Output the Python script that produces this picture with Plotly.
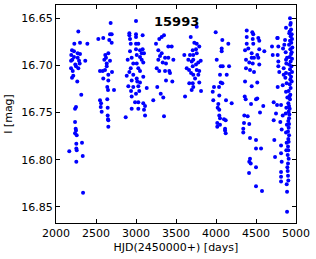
import plotly.graph_objects as go

s1_hjd = [2279, 2229, 2300, 2392, 2200, 2225, 2191, 2271, 2300, 2225, 2204, 2271, 2288, 2188,
          2241, 2296, 2366, 2188, 2250, 2209, 2279, 2200, 2216, 2266, 2316, 2250, 2238, 2238,
          2246, 2250, 2238, 2259, 2254, 2325, 2254, 2259, 2166, 2334, 2254, 2338]
s1_mag = [16.664, 16.677, 16.676, 16.677, 16.684, 16.685, 16.689, 16.687, 16.688, 16.691, 16.694,
          16.692, 16.695, 16.695, 16.699, 16.698, 16.695, 16.703, 16.701, 16.706, 16.703, 16.713,
          16.711, 16.717, 16.731, 16.744, 16.746, 16.760, 16.767, 16.769, 16.772, 16.774, 16.783,
          16.782, 16.788, 16.790, 16.791, 16.796, 16.802, 16.835]

s2_hjd = [2683, 2529, 2591, 2675, 2696, 2666, 2696, 2616, 2654, 2625, 2675, 2604, 2634, 2550,
          2584, 2634, 2613, 2700, 2654, 2591, 2654, 2641, 2650, 2725, 2550, 2563, 2641, 2559,
          2571, 2646, 2646, 2650, 2654, 2871, 2654]
s2_mag = [16.655, 16.672, 16.671, 16.667, 16.667, 16.673, 16.676, 16.689, 16.687, 16.692, 16.695,
          16.694, 16.698, 16.706, 16.706, 16.701, 16.705, 16.707, 16.710, 16.714, 16.716, 16.723,
          16.726, 16.726, 16.737, 16.740, 16.736, 16.744, 16.749, 16.745, 16.753, 16.757, 16.765,
          16.755, 16.758]

s3_hjd = [3000, 2917, 2917, 3000, 3000, 3083, 2925, 2934, 3000, 3029, 3050, 3083, 3000, 2925,
          3071, 3100, 3009, 2946, 3050, 2896, 3071, 2966, 3009, 3091, 2934, 3029, 2917, 3050,
          2884, 2966, 3009, 2946, 3091, 3016, 3050, 2904, 2966, 3029, 3134, 2938, 3000, 3041,
          2946, 2988, 3029, 3091, 3113, 2946, 3029, 3100, 3113, 3216]
s3_mag = [16.653, 16.666, 16.668, 16.667, 16.670, 16.668, 16.672, 16.677, 16.677, 16.677, 16.684,
          16.683, 16.683, 16.685, 16.687, 16.687, 16.689, 16.692, 16.691, 16.694, 16.694, 16.698,
          16.698, 16.697, 16.703, 16.703, 16.707, 16.706, 16.711, 16.710, 16.714, 16.716, 16.712,
          16.717, 16.718, 16.722, 16.723, 16.722, 16.724, 16.727, 16.730, 16.727, 16.733, 16.739,
          16.739, 16.740, 16.743, 16.746, 16.746, 16.747, 16.753, 16.737]

s4_hjd = [3350, 3321, 3291, 3250, 3404, 3446, 3279, 3321, 3300, 3279, 3363, 3404, 3467, 3334,
          3375, 3259, 3291, 3363, 3416, 3425, 3375, 3454, 3266, 3309, 3341, 3350]
s4_mag = [16.668, 16.670, 16.672, 16.677, 16.680, 16.680, 16.684, 16.687, 16.690, 16.694, 16.692,
          16.692, 16.694, 16.697, 16.698, 16.703, 16.706, 16.706, 16.706, 16.708, 16.716, 16.717,
          16.723, 16.730, 16.734, 16.754]

s5_hjd = [3759, 3684, 3729, 3759, 3791, 3709, 3750, 3759, 3675, 3716, 3604, 3716, 3654, 3809,
          3779, 3696, 3750, 3709, 3634, 3663, 3759, 3791, 3688, 3716, 3779, 3738, 3666, 3709,
          3791, 3716, 3696, 3813, 3613]
s5_mag = [16.659, 16.670, 16.676, 16.677, 16.680, 16.684, 16.683, 16.687, 16.689, 16.689, 16.689,
          16.694, 16.694, 16.695, 16.697, 16.696, 16.699, 16.701, 16.703, 16.705, 16.705, 16.706,
          16.708, 16.710, 16.710, 16.714, 16.719, 16.719, 16.718, 16.723, 16.726, 16.727, 16.733]

s6_hjd = [3996, 4079, 4154, 4071, 4071, 4009, 4059, 4084, 4163, 4050, 4134, 4059, 4079, 4038,
          3975, 3959, 4041, 3966, 4125, 4196, 4029, 4021, 4041, 4041, 4050, 4100, 4121, 4016,
          4050, 4016, 4113, 4113, 4121]
s6_mag = [16.665, 16.673, 16.677, 16.682, 16.685, 16.694, 16.701, 16.701, 16.701, 16.710, 16.710,
          16.718, 16.719, 16.723, 16.723, 16.728, 16.732, 16.737, 16.737, 16.740, 16.741, 16.745,
          16.747, 16.753, 16.756, 16.757, 16.758, 16.761, 16.763, 16.765, 16.767, 16.769, 16.772]

s7_hjd = [4384, 4454, 4466, 4529, 4384, 4459, 4541, 4466, 4384, 4404, 4541, 4604, 4363, 4446,
          4516, 4375, 4446, 4475, 4529, 4416, 4459, 4541, 4375, 4425, 4475, 4363, 4516, 4446,
          4359, 4371, 4500, 4516, 4438, 4591, 4550, 4354, 4396, 4350, 4416, 4341, 4341, 4425,
          4500, 4500, 4563, 4425, 4416, 4434, 4413, 4500, 4500, 4575]
s7_mag = [16.663, 16.665, 16.667, 16.671, 16.670, 16.672, 16.674, 16.677, 16.677, 16.682, 16.683,
          16.685, 16.684, 16.687, 16.689, 16.694, 16.692, 16.692, 16.692, 16.697, 16.698, 16.699,
          16.703, 16.705, 16.707, 16.717, 16.718, 16.722, 16.733, 16.736, 16.736, 16.735, 16.741,
          16.743, 16.750, 16.753, 16.754, 16.761, 16.762, 16.767, 16.771, 16.777, 16.779, 16.788,
          16.788, 16.799, 16.802, 16.804, 16.814, 16.808, 16.828, 16.833]

s8_hjd = [4766, 4875, 4925, 4934, 4916, 4771, 4863, 4854, 4700, 4779, 4838, 4709, 4771, 4779,
          4875, 4779, 4846, 4791, 4875, 4846, 4771, 4834, 4721, 4763, 4813, 4750, 4721, 4804,
          4834, 4821, 4729, 4813, 4738, 4813, 4821, 4813, 4813, 4813, 4888, 4888,
          4929, 4938, 4921, 4946, 4933, 4950, 4925, 4941, 4913, 4954, 4929, 4946, 4938, 4921,
          4950, 4933, 4913, 4942, 4925, 4950, 4917, 4938, 4929, 4946, 4921, 4933, 4908, 4929,
          4917, 4925, 4904, 4913, 4921, 4908, 4917, 4913, 4904, 4913, 4908, 4900, 4913, 4904,
          4908, 4900, 4904, 4896, 4908, 4900, 4892, 4896, 4900, 4904,
          4884, 4871, 4888, 4879, 4867, 4883, 4875, 4892, 4879, 4871, 4886, 4875, 4883, 4879]
s8_mag = [16.671, 16.660, 16.650, 16.655, 16.666, 16.671, 16.673, 16.678, 16.680, 16.680, 16.682,
          16.689, 16.689, 16.696, 16.694, 16.701, 16.703, 16.707, 16.708, 16.710, 16.723, 16.721,
          16.739, 16.742, 16.742, 16.751, 16.758, 16.760, 16.753, 16.768, 16.779, 16.785, 16.797,
          16.793, 16.802, 16.813, 16.818, 16.823, 16.834, 16.855,
          16.657, 16.662, 16.664, 16.667, 16.669, 16.672, 16.674, 16.676, 16.678, 16.681, 16.683,
          16.686, 16.688, 16.691, 16.693, 16.696, 16.699, 16.701, 16.704, 16.707, 16.709, 16.712,
          16.715, 16.717, 16.720, 16.724, 16.727, 16.731, 16.733, 16.736, 16.740, 16.743, 16.746,
          16.749, 16.752, 16.756, 16.759, 16.762, 16.766, 16.770, 16.774, 16.778, 16.781, 16.786,
          16.790, 16.795, 16.799, 16.804, 16.808, 16.812, 16.817, 16.822, 16.826,
          16.686, 16.692, 16.698, 16.713, 16.719, 16.728, 16.734, 16.745, 16.751, 16.763, 16.771,
          16.782, 16.790, 16.805]

hjd = s1_hjd + s2_hjd + s3_hjd + s4_hjd + s5_hjd + s6_hjd + s7_hjd + s8_hjd
mag = s1_mag + s2_mag + s3_mag + s4_mag + s5_mag + s6_mag + s7_mag + s8_mag

x_ticks = [2000, 2500, 3000, 3500, 4000, 4500, 5000]
y_ticks = [16.65, 16.70, 16.75, 16.80, 16.85]
star_id = "15993"

fig = go.Figure()
fig.add_trace(go.Scatter(
    x=hjd, y=mag, mode="markers",
    marker=dict(color="#0000ff", size=4, line=dict(width=0)),
    showlegend=False, cliponaxis=True, hoverinfo="skip",
))

font = dict(family="DejaVu Sans", size=11, color="black")
fig.update_layout(
    width=316, height=259,
    margin=dict(l=56, r=20, t=5, b=36),
    paper_bgcolor="white", plot_bgcolor="white",
    font=font,
    xaxis=dict(
        range=[2000, 5000], tickvals=x_ticks, ticktext=[str(v) for v in x_ticks],
        showgrid=False, zeroline=False, showline=True, linecolor="black", linewidth=1,
        mirror="ticks", ticks="inside", ticklen=4, tickcolor="black",
        title=dict(text="HJD(2450000+) [days]", standoff=4, font=font),
        automargin=False,
    ),
    yaxis=dict(
        range=[16.867, 16.636], tickvals=y_ticks, ticktext=["%.2f" % v for v in y_ticks],
        showgrid=False, zeroline=False, showline=True, linecolor="black", linewidth=1,
        mirror="ticks", ticks="inside", ticklen=4, tickcolor="black",
        title=dict(text="I [mag]", standoff=6, font=font),
        automargin=False,
    ),
    annotations=[dict(
        text="<b>" + star_id + "</b>", x=0.5, y=0.925, xref="paper", yref="paper",
        xanchor="center", yanchor="middle", showarrow=False,
        font=dict(family="DejaVu Sans", size=13, color="black"),
    )],
)

fig.write_html(
    "out.html",
    config={"displayModeBar": False},
    post_script="document.body.style.margin='0';document.body.style.overflow='hidden';",
)
